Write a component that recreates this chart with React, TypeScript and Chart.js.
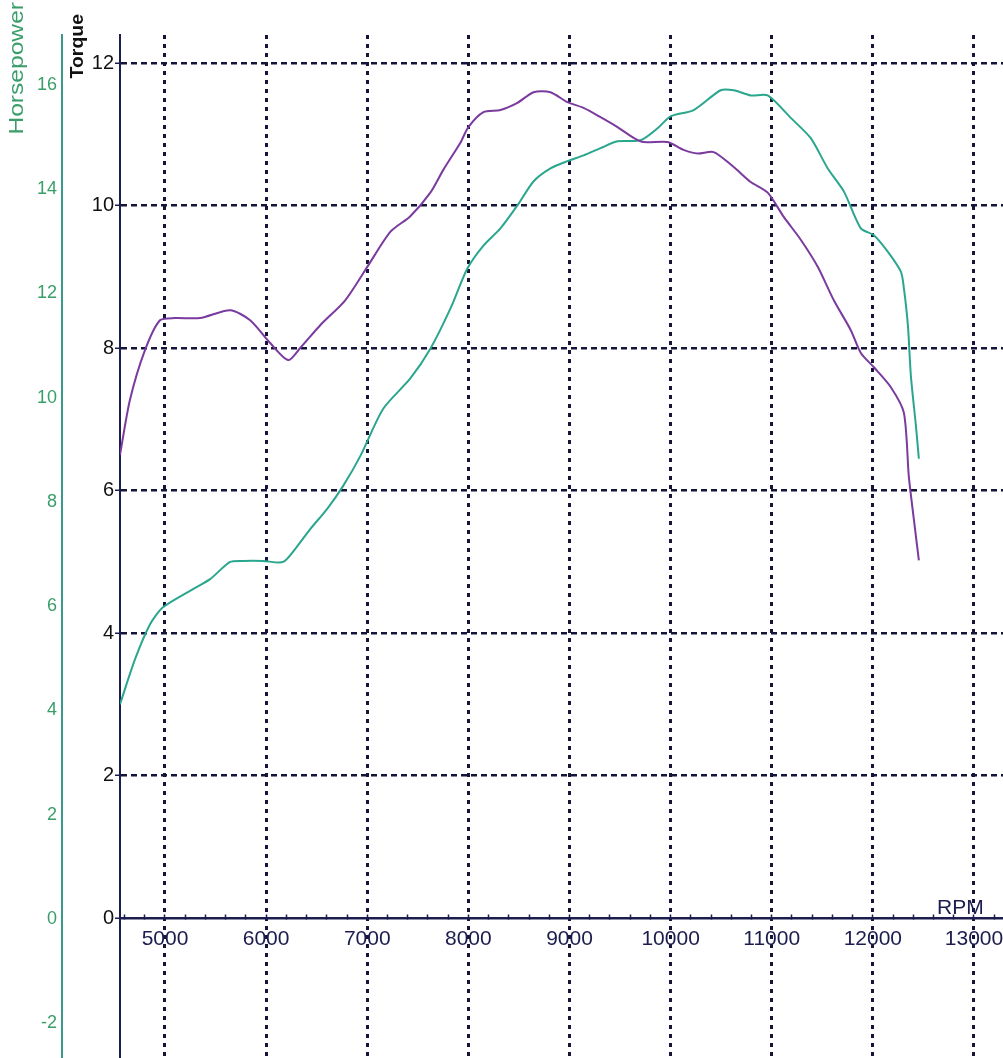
import React, { useEffect, useRef } from 'react';
import Chart from 'chart.js/auto';

// torque curve (purple)
const torqueRpm = [4555, 4653, 4802, 4950, 5099, 5347, 5644, 5842, 6040, 6218, 6337, 6535, 6782, 7010, 7228, 7426, 7624, 7752, 7921, 8000, 8149, 8317, 8485, 8644, 8812, 8980, 9139, 9307, 9475, 9634, 9733, 9970, 10129, 10267, 10426, 10624, 10792, 10960, 11119, 11287, 11455, 11614, 11782, 11881, 12010, 12178, 12307, 12356, 12406, 12455];
const torqueValues = [6.5, 7.27, 7.97, 8.39, 8.42, 8.42, 8.53, 8.39, 8.07, 7.83, 8.0, 8.32, 8.67, 9.16, 9.63, 9.85, 10.18, 10.5, 10.88, 11.1, 11.31, 11.34, 11.44, 11.59, 11.59, 11.45, 11.37, 11.24, 11.1, 10.95, 10.89, 10.89, 10.78, 10.73, 10.75, 10.54, 10.33, 10.18, 9.84, 9.52, 9.14, 8.67, 8.25, 7.93, 7.73, 7.45, 7.09, 6.19, 5.59, 5.02];

// horsepower curve (teal)
const hpRpm = [4555, 4703, 4851, 4980, 5277, 5446, 5644, 5772, 5970, 6168, 6307, 6436, 6604, 6762, 6931, 7158, 7426, 7624, 7822, 7990, 8149, 8317, 8485, 8644, 8812, 8980, 9139, 9307, 9475, 9703, 9871, 10000, 10228, 10495, 10624, 10792, 10960, 11188, 11386, 11554, 11713, 11881, 12010, 12149, 12277, 12307, 12347, 12376, 12426, 12455];
const hpValues = [4.12, 4.98, 5.65, 5.98, 6.33, 6.52, 6.85, 6.87, 6.87, 6.85, 7.15, 7.48, 7.87, 8.31, 8.88, 9.79, 10.37, 10.94, 11.71, 12.48, 12.92, 13.25, 13.69, 14.15, 14.4, 14.54, 14.65, 14.79, 14.92, 14.94, 15.17, 15.4, 15.52, 15.9, 15.9, 15.8, 15.8, 15.37, 14.98, 14.4, 13.96, 13.25, 13.12, 12.8, 12.42, 12.1, 11.38, 10.42, 9.46, 8.83];

// axis labels
const rpmLabels = [5000, 6000, 7000, 8000, 9000, 10000, 11000, 12000, 13000];
const torqueTicks = [0, 2, 4, 6, 8, 10, 12];
const hpTicks = [-2, 0, 2, 4, 6, 8, 10, 12, 14, 16];

const NAVY = '#1c1c4e';
const GRID = '#15153a';
const PURPLE = '#7a3a9e';
const TEAL = '#2ba68e';
const HP_TEXT = '#3a9e6a';
const FONT = "'Liberation Sans', Arial, sans-serif";

// axis titles, drawn next to their scales
const axisTitles = {
  id: 'axisTitles',
  afterDraw(chart: any) {
    const { ctx, scales } = chart;
    const hp = scales.hp;
    const tq = scales.y;

    ctx.save();
    ctx.textAlign = 'right';
    ctx.textBaseline = 'middle';

    ctx.save();
    ctx.fillStyle = HP_TEXT;
    ctx.font = `20px ${FONT}`;
    ctx.translate(hp.left + 17, 2);
    ctx.rotate(-Math.PI / 2);
    ctx.scale(1.23, 1);
    ctx.fillText('Horsepower', 0, 0);
    ctx.restore();

    ctx.save();
    ctx.fillStyle = '#111';
    ctx.font = `bold 18px ${FONT}`;
    ctx.translate(tq.left + 16, 14);
    ctx.rotate(-Math.PI / 2);
    ctx.scale(1.08, 1);
    ctx.fillText('Torque', 0, 0);
    ctx.restore();

    ctx.fillStyle = NAVY;
    ctx.font = `21px ${FONT}`;
    ctx.textAlign = 'left';
    ctx.textBaseline = 'alphabetic';
    ctx.fillText('RPM', 937, tq.getPixelForValue(0) - 4);
    ctx.restore();
  }
};

const noPad = (s: any) => {
  s.paddingTop = 0;
  s.paddingBottom = 0;
  s.paddingLeft = 0;
  s.paddingRight = 0;
};

const App: React.FC = () => {
  const chartRef = useRef<HTMLCanvasElement>(null);
  const chartInstance = useRef<Chart | null>(null);

  useEffect(() => {
    document.body.style.margin = '0';
    if (!chartRef.current) return;
    if (chartInstance.current) chartInstance.current.destroy();

    const ctx = chartRef.current.getContext('2d');
    if (!ctx) return;

    chartInstance.current = new Chart(ctx, {
      type: 'line',
      data: {
        datasets: [
          {
            label: 'Torque',
            data: torqueRpm.map((r, i) => ({ x: r, y: torqueValues[i] })),
            borderColor: PURPLE,
            borderWidth: 2,
            pointRadius: 0,
            tension: 0.25,
            yAxisID: 'y'
          },
          {
            label: 'Horsepower',
            data: hpRpm.map((r, i) => ({ x: r, y: hpValues[i] })),
            borderColor: TEAL,
            borderWidth: 2,
            pointRadius: 0,
            tension: 0.25,
            yAxisID: 'hp'
          }
        ]
      },
      options: {
        responsive: false,
        animation: false,
        layout: { padding: { top: 35, left: 0, right: 0, bottom: 0 }, autoPadding: false },
        plugins: {
          legend: { display: false },
          tooltip: { enabled: false }
        },
        scales: {
          x: {
            type: 'linear',
            position: { y: 0 },
            min: 4555,
            max: 13287,
            afterFit: (s: any) => { noPad(s); s.height = 0; },
            ticks: {
              stepSize: 200,
              includeBounds: false,
              autoSkip: false,
              maxRotation: 0,
              padding: 14,
              color: NAVY,
              font: { family: FONT, size: 21 },
              callback: (v: any) => (rpmLabels.includes(Number(v)) ? String(v) : '')
            },
            grid: {
              color: (c: any) => (rpmLabels.includes(c.tick?.value) ? GRID : 'rgba(0,0,0,0)'),
              lineWidth: 3,
              tickLength: -5,
              tickColor: NAVY,
              tickWidth: 1.5
            },
            border: { display: true, color: NAVY, width: 2.5, dash: [4, 5] }
          },
          y: {
            position: 'left',
            weight: 0,
            min: -1.965,
            max: 12.393,
            afterBuildTicks: (s: any) => { s.ticks = torqueTicks.map(v => ({ value: v })); },
            afterFit: (s: any) => { noPad(s); s.width = 58; },
            ticks: {
              padding: 1,
              color: '#111',
              font: { family: FONT, size: 20 }
            },
            grid: {
              // the 0 line is the solid RPM axis, so no dashed line there
              color: (c: any) => (c.tick?.value === 0 ? 'rgba(0,0,0,0)' : GRID),
              lineWidth: 2.5,
              tickLength: 5,
              tickColor: NAVY,
              tickWidth: 1.5
            },
            border: { display: true, color: NAVY, width: 2, dash: [6, 4] }
          },
          hp: {
            position: 'left',
            weight: 1,
            min: -2.667,
            max: 16.96,
            afterBuildTicks: (s: any) => { s.ticks = hpTicks.map(v => ({ value: v })); },
            afterFit: (s: any) => { noPad(s); s.width = 62; },
            ticks: {
              padding: 5,
              color: HP_TEXT,
              font: { family: FONT, size: 18 }
            },
            grid: { drawOnChartArea: false, drawTicks: false },
            border: { display: true, color: '#3a9a8a', width: 2 }
          }
        }
      },
      plugins: [axisTitles]
    });

    return () => {
      if (chartInstance.current) {
        chartInstance.current.destroy();
        chartInstance.current = null;
      }
    };
  }, []);

  return (
    <div style={{ position: 'absolute', left: 0, top: 0, width: 1003, height: 1058, background: '#fff' }}>
      <canvas ref={chartRef} width={1003} height={1058}></canvas>
    </div>
  );
};

export default App;
